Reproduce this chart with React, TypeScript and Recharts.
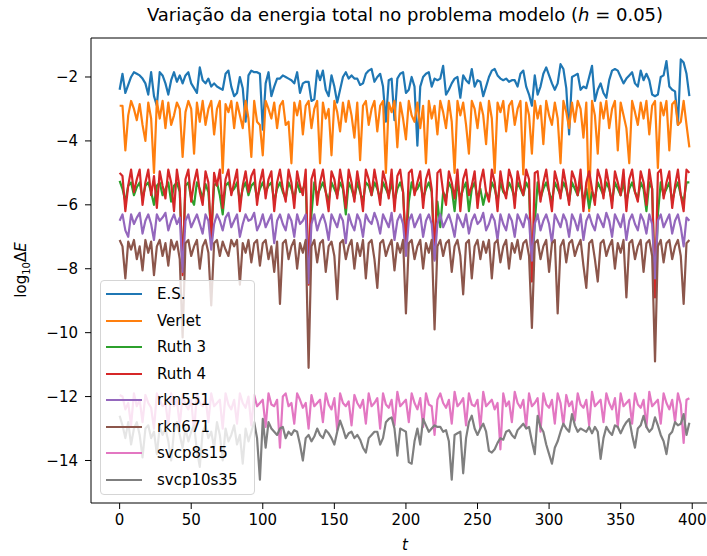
import React from "react";
import { LineChart, Line, XAxis, YAxis, ReferenceArea } from "recharts";

// time grid (step 2), 200 samples
const tValues = Array.from({ length: 200 }, (_, i) => i * 2);

const es = [
  -2.4, -1.9, -2.5, -2.25, -2.0, -1.85, -1.9, -1.95, -2.05, -2.2,
  -2.55, -1.85, -2.6, -2.9, -1.85, -1.95, -2.2, -2.55, -2.1, -1.85,
  -2.15, -1.95, -2.2, -1.95, -1.85, -2.2, -2.35, -2.5, -1.7, -2.1,
  -2.2, -2.05, -2.3, -2.2, -2.3, -2.35, -2.4, -1.9, -1.8, -2.3,
  -2.6, -2.5, -2.0, -2.35, -3.4, -1.95, -1.8, -1.85, -1.85, -1.9,
  -3.65, -2.2, -1.85, -2.6, -2.3, -2.05, -2.05, -1.95, -2.0, -2.05,
  -2.1, -2.2, -1.85, -2.5, -2.2, -2.15, -2.15, -2.75, -2.7, -1.8,
  -2.1, -1.8, -2.4, -2.6, -1.95, -2.3, -2.8, -2.4, -2.0, -1.85,
  -2.05, -1.95, -2.05, -2.05, -2.25, -2.2, -1.9, -1.8, -1.75, -2.15,
  -2.0, -1.9, -2.3, -3.4, -2.1, -2.05, -3.35, -2.05, -1.9, -1.85,
  -2.5, -2.4, -2.0, -2.3, -4.15, -2.3, -2.0, -1.9, -1.85, -2.3,
  -2.05, -2.1, -2.05, -1.65, -2.55, -2.4, -2.2, -2.05, -2.0, -2.65,
  -1.95, -2.1, -2.2, -1.75, -2.3, -2.1, -2.15, -2.6, -2.3, -2.0,
  -1.8, -1.75, -1.95, -2.05, -2.1, -2.05, -2.15, -2.1, -2.1, -2.3,
  -1.9, -1.8, -2.3, -2.55, -2.9, -1.95, -2.55, -2.3, -1.9, -1.7,
  -1.95, -2.2, -2.4, -2.2, -1.6, -1.75, -2.35, -3.8, -2.0, -1.95,
  -1.9, -2.4, -2.3, -2.35, -2.0, -1.65, -2.75, -2.4, -2.2, -2.5,
  -2.65, -2.1, -1.8, -1.75, -1.8, -2.0, -2.2, -2.05, -1.95, -1.85,
  -2.2, -2.3, -1.8, -2.1, -1.9, -2.1, -2.55, -2.6, -2.55, -2.0,
  -1.95, -1.5, -2.3, -2.4, -2.45, -3.5, -1.45, -1.55, -1.9, -2.6,
];

const verlet = [
  -2.9, -2.9, -4.3, -3.2, -2.75, -3.0, -3.35, -2.85, -3.5, -4.0,
  -2.8, -3.3, -5.0, -2.75, -3.3, -2.75, -3.6, -2.8, -3.5, -3.2,
  -2.8, -3.0, -4.5, -3.1, -2.75, -3.0, -4.4, -2.8, -3.4, -2.75,
  -3.5, -3.0, -2.75, -3.8, -3.0, -2.75, -5.0, -2.85, -3.1, -2.75,
  -3.6, -2.8, -3.2, -3.6, -2.75, -3.3, -4.5, -2.75, -3.4, -3.5,
  -4.45, -2.75, -3.0, -3.3, -2.8, -3.6, -2.9, -2.75, -3.5, -3.4,
  -4.7, -2.8, -3.2, -2.75, -3.8, -2.9, -2.75, -3.6, -3.0, -2.75,
  -4.7, -2.8, -3.3, -3.0, -4.45, -2.75, -3.1, -3.7, -2.8, -3.4,
  -2.75, -3.2, -3.9, -2.8, -4.6, -2.9, -2.75, -3.5, -3.0, -2.75,
  -3.7, -2.9, -2.75, -5.0, -2.8, -3.1, -2.75, -4.2, -2.8, -3.3,
  -3.95, -2.75, -3.2, -3.4, -2.8, -3.6, -2.9, -4.7, -2.75, -3.3,
  -2.9, -3.8, -2.75, -3.1, -3.6, -2.75, -3.4, -5.0, -2.75, -3.2,
  -2.8, -3.5, -4.4, -2.75, -3.0, -3.6, -2.8, -3.2, -4.1, -2.75,
  -3.3, -5.0, -2.8, -3.1, -2.75, -3.7, -2.9, -2.75, -3.5, -3.0,
  -2.75, -5.05, -2.8, -3.2, -4.4, -2.75, -3.3, -2.9, -4.1, -2.75,
  -3.2, -3.5, -2.8, -3.3, -4.7, -2.75, -3.1, -3.6, -2.8, -3.4,
  -2.75, -3.0, -3.9, -2.8, -6.2, -2.75, -3.2, -4.4, -2.8, -3.3,
  -2.75, -3.6, -3.0, -2.75, -4.3, -2.8, -3.2, -3.6, -4.7, -2.75,
  -3.1, -3.5, -2.8, -3.3, -2.75, -3.8, -2.9, -2.75, -4.85, -2.8,
  -3.2, -2.75, -4.3, -2.85, -2.75, -3.5, -3.4, -2.75, -3.5, -4.2,
];

const ruth3 = [
  -5.25, -5.5, -5.9, -5.4, -5.3, -5.7, -5.45, -5.3, -5.8, -5.4,
  -5.3, -5.6, -6.0, -5.4, -5.3, -5.7, -5.5, -5.3, -5.9, -5.4,
  -5.3, -5.6, -8.0, -5.4, -5.3, -5.8, -6.0, -5.3, -5.5, -5.8,
  -5.35, -5.6, -6.9, -5.4, -5.3, -5.7, -6.3, -5.4, -5.3, -5.6,
  -5.5, -5.3, -5.9, -5.5, -5.3, -5.7, -5.4, -5.3, -5.8, -5.5,
  -5.3, -5.6, -5.4, -5.3, -5.9, -5.5, -5.3, -5.6, -5.8, -5.3,
  -5.5, -5.8, -5.3, -5.6, -5.5, -5.3, -8.3, -6.3, -5.3, -5.7,
  -5.5, -5.3, -5.6, -5.9, -5.3, -5.5, -5.7, -5.3, -5.5, -6.3,
  -5.3, -5.5, -5.8, -5.3, -5.6, -5.9, -5.3, -5.4, -5.7, -5.3,
  -5.5, -5.8, -5.3, -5.5, -5.7, -5.3, -5.9, -5.5, -5.3, -5.6,
  -7.3, -5.9, -5.3, -5.6, -5.5, -5.3, -5.8, -5.5, -5.3, -5.6,
  -7.5, -5.9, -6.7, -5.6, -5.8, -5.3, -5.5, -6.2, -5.3, -5.8,
  -5.5, -5.3, -6.2, -5.5, -5.3, -5.8, -5.5, -6.0, -5.6, -5.8,
  -5.3, -5.5, -5.9, -5.3, -5.6, -5.7, -5.3, -5.5, -5.8, -5.3,
  -5.5, -5.7, -5.3, -5.5, -8.2, -6.6, -5.3, -5.8, -5.5, -5.3,
  -5.6, -5.9, -5.3, -5.5, -5.7, -5.3, -5.5, -5.9, -5.3, -5.5,
  -5.7, -5.3, -5.9, -5.5, -6.1, -5.6, -5.8, -5.3, -5.5, -5.7,
  -5.3, -5.5, -5.9, -5.3, -5.5, -5.7, -5.3, -5.9, -5.5, -5.3,
  -5.6, -5.8, -5.3, -5.5, -6.2, -5.3, -5.5, -8.7, -6.3, -5.3,
  -5.7, -5.5, -5.3, -5.9, -5.5, -5.3, -5.7, -5.9, -5.3, -5.3,
];

const ruth4 = [
  -5.0, -5.1, -6.2, -5.4, -4.9, -5.6, -5.2, -4.9, -6.0, -5.3,
  -4.9, -5.7, -5.1, -6.1, -4.95, -5.4, -5.8, -4.9, -5.3, -6.2,
  -4.9, -5.5, -8.2, -5.2, -4.9, -5.9, -5.3, -4.9, -5.6, -6.0,
  -4.95, -5.3, -7.1, -5.0, -5.4, -4.9, -6.1, -5.2, -4.9, -5.7,
  -5.3, -4.9, -6.2, -5.4, -4.95, -5.6, -5.1, -4.9, -6.0, -5.3,
  -4.9, -5.8, -5.2, -4.95, -6.2, -5.3, -4.9, -5.5, -5.9, -4.9,
  -5.3, -6.1, -4.95, -5.4, -5.7, -4.9, -8.5, -5.2, -4.9, -6.0,
  -5.3, -4.9, -5.6, -6.2, -4.95, -5.2, -5.8, -4.9, -5.4, -6.1,
  -4.9, -5.3, -5.9, -4.95, -5.5, -6.2, -4.9, -5.2, -5.7, -4.9,
  -5.4, -6.0, -4.95, -5.3, -5.8, -4.9, -6.2, -5.1, -4.9, -5.6,
  -7.5, -5.0, -4.9, -5.7, -5.3, -4.95, -6.1, -5.2, -4.9, -5.5,
  -7.7, -5.0, -4.9, -5.6, -6.0, -4.95, -5.3, -5.8, -4.9, -6.2,
  -5.2, -4.9, -5.7, -5.4, -4.95, -6.1, -5.3, -4.9, -5.6, -5.9,
  -4.9, -5.3, -6.2, -4.95, -5.5, -5.8, -4.9, -5.2, -6.1, -4.95,
  -5.4, -5.7, -4.9, -5.2, -8.4, -5.0, -4.95, -5.9, -5.3, -4.9,
  -5.6, -6.2, -4.95, -5.3, -5.8, -4.9, -5.4, -6.0, -4.95, -5.2,
  -5.7, -4.9, -6.2, -5.3, -4.95, -5.5, -6.0, -4.9, -5.2, -5.8,
  -4.9, -5.4, -6.1, -4.95, -5.3, -5.7, -4.9, -6.2, -5.2, -4.9,
  -5.6, -5.9, -4.95, -5.3, -6.0, -4.9, -5.5, -8.9, -5.0, -4.9,
  -5.8, -5.3, -4.95, -6.1, -5.4, -4.9, -5.7, -6.2, -4.9, -5.0,
];

const rkn551 = [
  -6.5, -6.3, -6.8, -7.0, -6.3, -6.6, -6.4, -6.25, -6.9, -6.5,
  -6.3, -6.6, -7.1, -6.3, -6.5, -6.4, -6.25, -6.8, -6.5, -6.3,
  -6.6, -6.4, -8.1, -6.5, -6.3, -6.7, -6.5, -6.3, -6.6, -6.9,
  -6.3, -6.5, -7.4, -6.6, -6.3, -6.5, -6.8, -6.4, -6.25, -6.7,
  -6.5, -6.3, -7.0, -6.6, -6.3, -6.5, -6.45, -6.25, -6.8, -6.6,
  -6.3, -6.7, -6.5, -6.3, -7.2, -6.5, -6.3, -6.6, -6.8, -6.3,
  -6.5, -7.0, -6.3, -6.6, -6.5, -6.3, -8.45, -6.6, -6.3, -6.8,
  -6.5, -6.3, -6.6, -7.1, -6.3, -6.5, -6.7, -6.3, -6.5, -7.2,
  -6.3, -6.6, -6.8, -6.3, -6.5, -7.0, -6.3, -6.5, -6.6, -6.25,
  -6.5, -6.9, -6.3, -6.5, -6.7, -6.25, -7.1, -6.5, -6.3, -6.6,
  -7.6, -6.5, -6.3, -6.7, -6.5, -6.3, -7.0, -6.5, -6.3, -6.6,
  -7.75, -6.6, -6.3, -6.7, -6.5, -6.3, -6.6, -7.0, -6.3, -6.5,
  -6.7, -6.3, -6.9, -6.5, -6.3, -6.6, -6.5, -6.25, -6.8, -6.6,
  -6.3, -6.5, -7.1, -6.3, -6.6, -6.8, -6.3, -6.5, -7.0, -6.3,
  -6.5, -6.7, -6.3, -6.5, -7.75, -6.6, -6.3, -6.8, -6.5, -6.3,
  -6.6, -7.2, -6.3, -6.5, -6.7, -6.3, -6.5, -7.0, -6.3, -6.5,
  -6.8, -6.3, -7.1, -6.5, -6.3, -6.6, -6.8, -6.3, -6.5, -6.7,
  -6.25, -6.5, -7.0, -6.3, -6.5, -6.7, -6.3, -7.1, -6.5, -6.3,
  -6.6, -6.8, -6.3, -6.5, -6.9, -6.3, -6.6, -8.3, -6.5, -6.3,
  -6.7, -6.5, -6.3, -6.9, -6.5, -6.3, -6.7, -7.3, -6.4, -6.5,
];

const rkn671 = [
  -7.1, -7.3, -8.3, -7.15, -7.4, -7.1, -7.7, -7.3, -8.05, -7.1,
  -7.5, -7.15, -8.2, -7.3, -7.1, -7.6, -7.2, -7.9, -7.1, -7.4,
  -7.15, -7.7, -10.15, -7.2, -7.1, -7.6, -7.3, -7.1, -8.0, -7.3,
  -7.1, -7.5, -9.15, -7.2, -7.1, -7.6, -7.15, -7.4, -7.6, -7.1,
  -7.3, -7.1, -8.5, -7.2, -7.5, -7.1, -7.8, -7.2, -7.1, -7.9,
  -7.2, -7.1, -7.7, -7.3, -8.1, -7.15, -9.1, -7.2, -7.1, -7.7,
  -7.3, -7.1, -8.0, -7.2, -7.5, -7.1, -11.1, -7.3, -7.1, -7.8,
  -7.2, -7.1, -8.1, -7.3, -7.15, -7.6, -8.95, -7.2, -7.1, -7.7,
  -7.3, -7.1, -8.0, -7.2, -7.6, -7.1, -8.3, -7.2, -7.1, -7.7,
  -8.6, -7.2, -7.1, -7.6, -7.3, -7.1, -8.05, -7.2, -7.5, -7.1,
  -9.4, -7.2, -7.1, -7.7, -7.3, -7.1, -8.0, -7.2, -7.5, -7.1,
  -9.9, -7.3, -7.1, -7.6, -7.2, -7.1, -8.1, -7.3, -7.1, -7.6,
  -8.8, -7.2, -7.1, -8.3, -7.3, -7.1, -7.7, -7.15, -7.5, -7.1,
  -8.3, -7.2, -7.1, -7.8, -7.3, -7.1, -8.0, -7.2, -7.5, -7.1,
  -7.7, -7.2, -7.1, -7.6, -9.85, -7.2, -7.1, -7.7, -7.3, -7.1,
  -8.1, -7.2, -7.1, -9.4, -7.3, -7.1, -7.8, -7.2, -7.1, -7.6,
  -7.3, -7.1, -7.9, -8.6, -7.2, -7.1, -7.7, -8.4, -7.2, -7.1,
  -7.6, -7.3, -7.1, -8.0, -7.2, -7.5, -7.1, -8.9, -7.2, -7.1,
  -7.7, -7.3, -7.1, -8.1, -7.2, -7.1, -7.6, -10.9, -7.3, -7.1,
  -7.8, -7.2, -7.1, -7.7, -7.3, -7.1, -7.6, -9.1, -7.2, -7.1,
];

const svcp8s15 = [
  -11.95, -12.0, -12.4, -12.2, -12.9, -11.9, -12.3, -12.1, -12.8, -11.95,
  -12.2, -12.35, -13.0, -11.9, -12.1, -12.3, -12.2, -12.9, -11.9, -12.3,
  -12.1, -12.9, -11.95, -12.25, -12.4, -12.1, -13.1, -11.9, -12.2, -12.3,
  -12.05, -12.8, -11.9, -12.3, -12.2, -12.1, -13.0, -11.9, -12.25, -12.4,
  -12.1, -12.85, -11.9, -12.2, -12.35, -12.0, -12.9, -11.95, -12.3, -12.2,
  -12.1, -12.95, -11.9, -12.25, -12.3, -12.1, -13.6, -12.0, -11.9, -12.3,
  -12.2, -12.85, -11.9, -12.1, -12.35, -12.2, -13.0, -11.95, -12.3, -12.2,
  -12.1, -12.8, -11.9, -12.25, -12.4, -12.05, -13.05, -11.9, -12.2, -12.3,
  -12.15, -12.9, -11.95, -12.2, -12.35, -12.1, -12.85, -11.9, -12.3, -12.2,
  -12.05, -13.0, -11.9, -12.25, -12.35, -12.1, -12.9, -11.85, -12.3, -12.2,
  -12.1, -12.8, -11.9, -12.2, -12.4, -12.05, -12.95, -11.9, -12.25, -12.3,
  -13.2, -12.1, -11.9, -12.2, -12.35, -12.1, -12.85, -11.85, -12.3, -12.2,
  -12.05, -12.9, -11.9, -12.25, -12.3, -12.1, -13.0, -11.85, -12.3, -12.2,
  -12.1, -12.4, -12.2, -13.65, -11.9, -12.3, -12.15, -12.8, -11.85, -12.2,
  -12.35, -12.1, -12.95, -11.9, -12.3, -12.2, -12.05, -13.1, -11.9, -12.25,
  -12.35, -12.1, -12.85, -11.9, -12.2, -12.9, -11.95, -12.3, -12.15, -12.75,
  -11.9, -12.25, -12.35, -12.1, -12.9, -11.85, -12.3, -12.2, -12.1, -12.8,
  -11.9, -12.2, -12.4, -12.05, -12.95, -11.9, -12.3, -12.2, -12.1, -12.85,
  -11.9, -12.25, -12.35, -12.1, -12.95, -11.85, -12.3, -12.2, -12.1, -12.85,
  -11.9, -12.2, -12.4, -12.1, -12.8, -11.9, -12.25, -13.45, -12.1, -12.05,
];

const svcp10s35 = [
  -12.6, -12.9, -13.3, -12.8, -13.5, -13.0, -12.8, -13.2, -13.9, -13.0,
  -12.9, -13.3, -13.1, -13.8, -12.95, -13.2, -13.0, -13.4, -14.0, -13.1,
  -12.8, -13.2, -13.6, -13.0, -13.4, -13.1, -12.9, -13.7, -14.2, -13.1,
  -12.9, -13.3, -13.1, -13.6, -12.8, -13.2, -14.0, -13.0, -13.4, -13.2,
  -12.9, -13.5, -13.2, -14.1, -13.0, -13.4, -13.1, -12.8, -13.3, -14.6,
  -12.7, -13.6, -12.8, -13.0, -13.1, -13.2, -13.0, -12.95, -13.3, -13.1,
  -13.2, -13.05, -13.1, -13.5, -14.0, -13.3, -13.2, -13.4, -13.25, -13.0,
  -13.2, -13.3, -13.05, -13.15, -13.3, -13.5, -13.1, -12.75, -13.0, -13.3,
  -13.15, -13.1, -13.3, -13.2, -13.35, -13.6, -13.75, -13.3, -13.2, -13.1,
  -13.1, -13.5, -13.3, -12.8, -12.7, -12.65, -13.0, -13.85, -13.0, -13.05,
  -13.1, -14.05, -14.1, -13.4, -13.0, -13.5, -12.7, -12.9, -13.1, -13.0,
  -12.9, -12.95, -12.95, -13.1, -13.05, -13.4, -14.6, -13.2, -13.15, -13.1,
  -14.4, -13.3, -12.8, -12.6, -13.0, -13.2, -13.0, -12.85, -13.1, -13.7,
  -13.75, -13.65, -13.45, -13.3, -13.35, -13.1, -13.05, -13.2, -13.3, -13.05,
  -12.95, -12.85, -13.0, -12.95, -13.4, -13.8, -12.6, -12.95, -13.1, -13.5,
  -13.8, -14.1, -13.6, -13.4, -13.1, -12.85, -13.0, -13.1, -12.55, -12.9,
  -13.1, -13.0, -13.05, -13.1, -12.95, -13.15, -12.95, -13.1, -13.95, -13.3,
  -12.95, -13.1, -13.2, -12.9, -12.95, -13.15, -12.95, -12.8, -12.7, -13.2,
  -13.6, -13.0, -12.9, -12.6, -12.95, -13.1, -13.0, -12.65, -12.9, -13.2,
  -13.4, -13.8, -13.2, -13.1, -12.8, -12.9, -12.85, -12.55, -13.2, -12.82,
];

const seriesList = [
  { key: "es", name: "E.S.", color: "#1f77b4", values: es },
  { key: "verlet", name: "Verlet", color: "#ff7f0e", values: verlet },
  { key: "ruth3", name: "Ruth 3", color: "#2ca02c", values: ruth3 },
  { key: "ruth4", name: "Ruth 4", color: "#d62728", values: ruth4 },
  { key: "rkn551", name: "rkn551", color: "#9467bd", values: rkn551 },
  { key: "rkn671", name: "rkn671", color: "#8c564b", values: rkn671 },
  { key: "svcp8s15", name: "svcp8s15", color: "#e377c2", values: svcp8s15 },
  { key: "svcp10s35", name: "svcp10s35", color: "#7f7f7f", values: svcp10s35 },
];

const xTicks = [0, 50, 100, 150, 200, 250, 300, 350, 400];
const yTicks = [-14, -12, -10, -8, -6, -4, -2];

const data = tValues.map((t, i) => {
  const row: Record<string, number> = { t };
  seriesList.forEach((s) => (row[s.key] = s.values[i]));
  return row;
});

const X_DOM: [number, number] = [-20, 418];
const Y_DOM: [number, number] = [-15.33, -0.78];
const fmt = (v: number) => String(v).replace("-", "\u2212");
const font = "'DejaVu Sans', sans-serif";
const tickStyle = { fontSize: 15, fill: "#000", fontFamily: font };

export default function App() {
  return (
    <div style={{ position: "absolute", left: 0, top: 0, width: 707, height: 556, overflow: "hidden", background: "#fff", fontFamily: font, color: "#000" }}>
      <div style={{ position: "absolute", left: 0, width: 810, top: 4, textAlign: "center", fontSize: 18, whiteSpace: "nowrap" }}>
        Variação da energia total no problema modelo (<i>h</i> = 0.05)
      </div>

      <LineChart width={730} height={556} data={data} margin={{ top: 38, right: 12, bottom: 23, left: 31 }}>
        <XAxis dataKey="t" type="number" domain={X_DOM} ticks={xTicks} allowDataOverflow
          height={30} tickSize={6} tickMargin={5} tick={tickStyle} tickFormatter={fmt}
          axisLine={false} tickLine={{ stroke: "#000" }} />
        <YAxis type="number" domain={Y_DOM} ticks={yTicks} allowDataOverflow
          width={60} tickSize={6} tickMargin={7} tick={tickStyle} tickFormatter={fmt}
          axisLine={false} tickLine={{ stroke: "#000" }} />
        {seriesList.map((s) => (
          <Line key={s.key} dataKey={s.key} name={s.name} stroke={s.color} strokeWidth={2.2}
            strokeLinejoin="round" dot={false} activeDot={false} isAnimationActive={false} />
        ))}
        <ReferenceArea x1={X_DOM[0]} x2={X_DOM[1]} y1={Y_DOM[0]} y2={Y_DOM[1]}
          fill="none" stroke="#000" strokeWidth={1} fillOpacity={0} />
      </LineChart>

      <div style={{ position: "absolute", left: 100, top: 280, width: 155, height: 215, boxSizing: "border-box",
        background: "rgba(255,255,255,0.8)", border: "1px solid #d5d5d5", borderRadius: 4 }}>
        {seriesList.map((s, i) => (
          <div key={s.key} style={{ position: "absolute", left: 0, top: Math.round(3 + i * 26.5), height: 20, width: 155 }}>
            <div style={{ position: "absolute", left: 5, top: 9, width: 36, height: 2, background: s.color }} />
            <span style={{ position: "absolute", left: 56, top: 1, fontSize: 15, lineHeight: "18px", whiteSpace: "nowrap" }}>{s.name}</span>
          </div>
        ))}
      </div>

      <div style={{ position: "absolute", left: 0, width: 810, top: 536, textAlign: "center", fontSize: 15 }}>
        <i>t</i>
      </div>
      <div style={{ position: "absolute", left: 22, top: 270, transform: "translate(-50%, -50%) rotate(-90deg)", fontSize: 15, whiteSpace: "nowrap" }}>
        log<sub style={{ fontSize: 10 }}>10</sub>Δ<i>E</i>
      </div>
    </div>
  );
}
